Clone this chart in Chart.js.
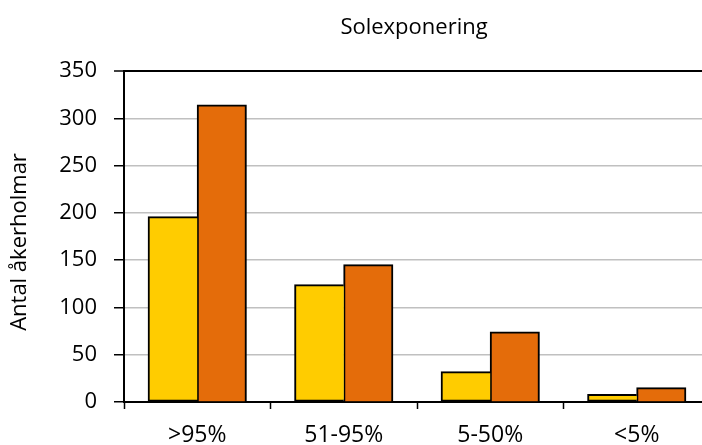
<!DOCTYPE html>
<html>
<head>
<meta charset="utf-8">
<script src="https://cdn.jsdelivr.net/npm/chart.js@4"></script>
<style>
  html, body { margin: 0; padding: 0; background: #fff; overflow: hidden; }
  #wrap { width: 702px; height: 445px; overflow: hidden; }
</style>
</head>
<body>
<div id="wrap"><canvas id="myChart" width="720" height="445"></canvas></div>
<script>
const categories = ['>95%', '51-95%', '5-50%', '<5%'];
const seriesA = [196, 124, 32, 8];
const seriesB = [314, 145, 74, 15];
const yTicks = [0, 50, 100, 150, 200, 250, 300, 350];

const FONT = "'Open Sans', sans-serif";

// chart title over the plot area and the rotated y-axis caption
const labelsPlugin = {
    id: 'plotLabels',
    afterDraw(chart) {
        const ctx = chart.ctx;
        const area = chart.chartArea;
        ctx.save();
        ctx.font = '22px ' + FONT;
        ctx.fillStyle = '#000';
        ctx.textAlign = 'center';
        ctx.textBaseline = 'alphabetic';
        ctx.fillText('Solexponering', (area.left + area.right) / 2 - 3, 34);

        ctx.translate(20, 242);
        ctx.rotate(-Math.PI / 2);
        ctx.textBaseline = 'middle';
        ctx.fillText('Antal åkerholmar', 0, 0);
        ctx.restore();
    }
};

const getChart = document.getElementById('myChart').getContext('2d');
const mychart = new Chart(getChart, {
    type: 'bar',
    data: {
        labels: categories,
        datasets: [{
            label: 'A',
            data: seriesA,
            backgroundColor: '#FFCC00',
            borderColor: '#000',
            borderWidth: 2,
            borderSkipped: 'right',
            inflateAmount: 0.5,
            categoryPercentage: 0.67,
            barPercentage: 1.0
        }, {
            label: 'B',
            data: seriesB,
            backgroundColor: '#E46C0A',
            borderColor: '#000',
            borderWidth: 2,
            borderSkipped: 'bottom',
            inflateAmount: 0.5,
            categoryPercentage: 0.67,
            barPercentage: 1.0
        }]
    },
    options: {
        responsive: false,
        animation: false,
        layout: { padding: { top: 71, right: 10, left: 0, bottom: 0 } },
        scales: {
            y: {
                min: 0,
                max: 350,
                afterBuildTicks(scale) {
                    scale.ticks = yTicks.map(v => ({ value: v }));
                },
                afterFit(scale) { scale.width = 124; },
                ticks: {
                    color: '#000',
                    font: { family: FONT, size: 22 },
                    padding: 17
                },
                grid: {
                    color: ctx => ctx.tick && ctx.tick.value === 350 ? '#000' : '#c0c0c0',
                    lineWidth: ctx => ctx.tick && ctx.tick.value === 350 ? 2 : 1.5,
                    tickColor: '#000',
                    tickLength: 10,
                    tickWidth: 1.5
                },
                border: { color: '#000', width: 2 }
            },
            x: {
                afterFit(scale) { scale.height = 43; },
                ticks: {
                    color: '#000',
                    font: { family: FONT, size: 23 },
                    padding: 13
                },
                grid: {
                    offset: true,
                    drawOnChartArea: false,
                    tickColor: '#000',
                    tickLength: 7,
                    tickWidth: 1.5
                },
                border: { color: '#000', width: 2 }
            }
        },
        plugins: {
            legend: { display: false },
            tooltip: { enabled: false }
        }
    },
    plugins: [labelsPlugin]
});
</script>
</body>
</html>
